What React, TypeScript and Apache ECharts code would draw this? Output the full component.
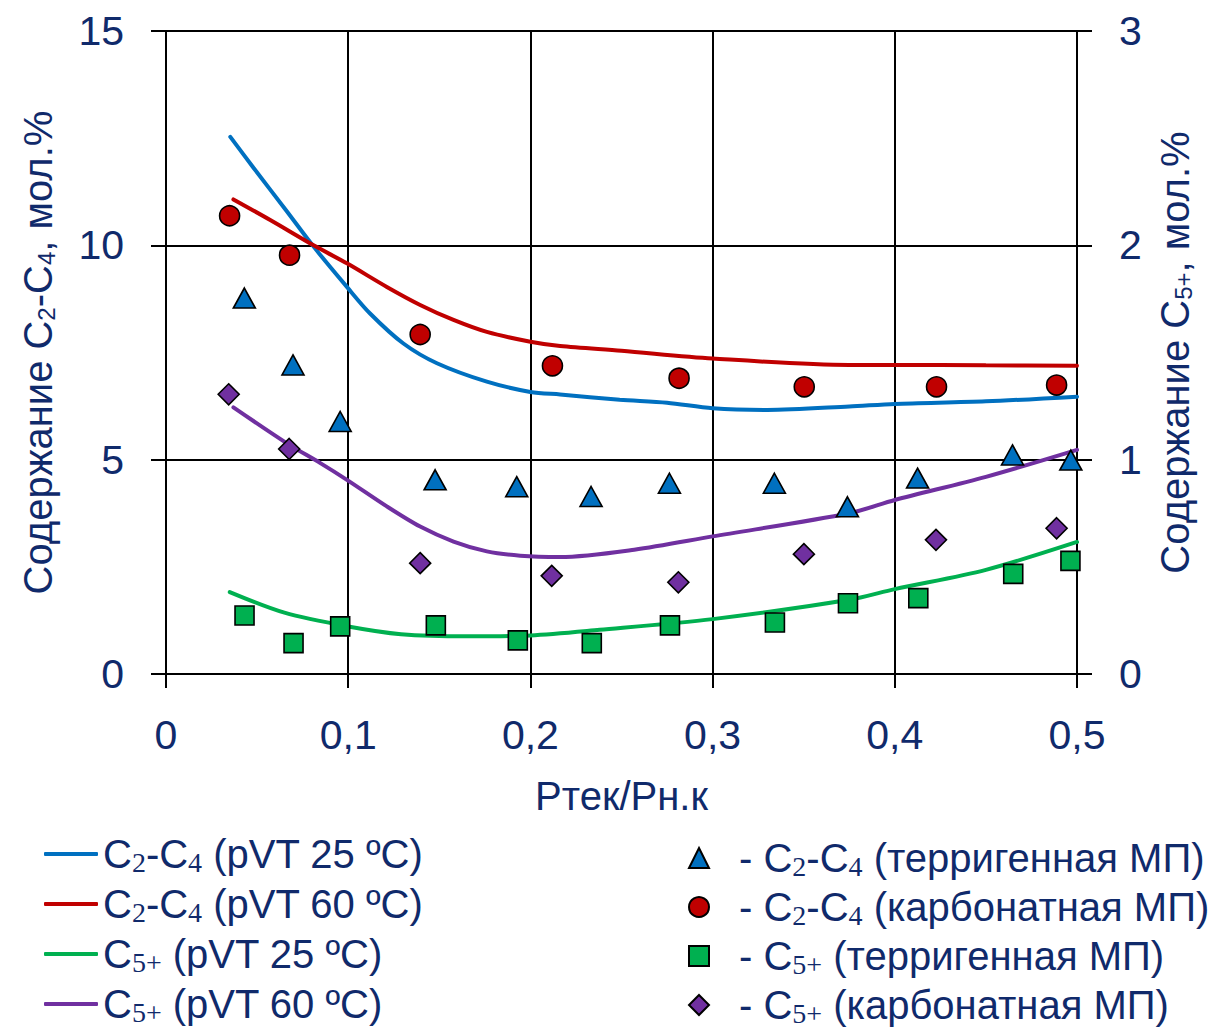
import React, { useEffect, useRef } from 'react';
import * as echarts from 'echarts';

const FONT = "'Liberation Sans', Arial, sans-serif";
const SUBFONT = "'Liberation Serif', 'DejaVu Serif', serif";
const TEXT = '#102A6B';
const FS = 41;

// Axis tick labels
const xTickLabels = ['0', '0,1', '0,2', '0,3', '0,4', '0,5'];
const yLeftTickLabels = ['0', '5', '10', '15'];
const yRightTickLabels = ['0', '1', '2', '3'];

// Model curves (pVT) — C2-C4 on left axis, C5+ on right axis
const c24t25X = [0.0353, 0.048, 0.0664, 0.081, 0.0993, 0.112, 0.1303, 0.1487, 0.1761, 0.2, 0.2163, 0.249, 0.275, 0.3, 0.33, 0.375, 0.4, 0.45, 0.5];
const c24t25Y = [12.53, 11.81, 10.79, 9.97, 9.03, 8.41, 7.71, 7.25, 6.82, 6.58, 6.52, 6.4, 6.33, 6.2, 6.16, 6.24, 6.3, 6.36, 6.47];

const c24t60X = [0.037, 0.0572, 0.081, 0.0993, 0.1212, 0.1395, 0.1578, 0.1761, 0.2, 0.2163, 0.25, 0.3, 0.375, 0.4, 0.45, 0.5];
const c24t60Y = [11.07, 10.59, 10.0, 9.58, 9.03, 8.61, 8.26, 7.98, 7.75, 7.65, 7.54, 7.36, 7.21, 7.21, 7.2, 7.19];

const c5t25X = [0.035, 0.065, 0.1, 0.129, 0.165, 0.2, 0.238, 0.3, 0.375, 0.4, 0.45, 0.5];
const c5t25Y = [0.382, 0.286, 0.222, 0.186, 0.176, 0.18, 0.206, 0.256, 0.346, 0.396, 0.486, 0.616];

const c5t60X = [0.037, 0.0664, 0.0847, 0.0993, 0.1212, 0.1395, 0.1578, 0.1761, 0.1944, 0.2163, 0.257, 0.3, 0.375, 0.4, 0.45, 0.5];
const c5t60Y = [1.244, 1.076, 0.984, 0.906, 0.782, 0.688, 0.618, 0.572, 0.552, 0.546, 0.58, 0.642, 0.75, 0.812, 0.92, 1.046];

// Measured points
const triX = [0.043, 0.0697, 0.0956, 0.1477, 0.1925, 0.2333, 0.2763, 0.3339, 0.374, 0.4125, 0.4646, 0.4966];
const triY = [8.77, 7.21, 5.89, 4.53, 4.37, 4.14, 4.45, 4.45, 3.9, 4.57, 5.11, 4.99];

const circX = [0.0349, 0.0678, 0.1395, 0.2121, 0.2816, 0.3503, 0.4229, 0.4888];
const circY = [10.69, 9.77, 7.92, 7.19, 6.9, 6.7, 6.7, 6.74];

const sqX = [0.0431, 0.07, 0.0956, 0.1481, 0.1931, 0.2337, 0.2766, 0.3342, 0.3743, 0.4129, 0.465, 0.4964];
const sqY = [0.273, 0.144, 0.222, 0.227, 0.157, 0.144, 0.227, 0.24, 0.33, 0.354, 0.467, 0.528];

const diaX = [0.0344, 0.0676, 0.1395, 0.2117, 0.2812, 0.3501, 0.4226, 0.4888];
const diaY = [1.305, 1.05, 0.517, 0.458, 0.428, 0.559, 0.626, 0.68];

const lineNames = ['C2-C4 (pVT 25 ºC)', 'C2-C4 (pVT 60 ºC)', 'C5+ (pVT 25 ºC)', 'C5+ (pVT 60 ºC)'];
const pointNames = ['- C2-C4 (терригенная МП)', '- C2-C4 (карбонатная МП)', '- C5+ (терригенная МП)', '- C5+ (карбонатная МП)'];

const legendRich: Record<string, string> = {
  'C2-C4 (pVT 25 ºC)': '{m|C}{s|2}{m|-C}{s|4}{m| (pVT 25 ºC)}',
  'C2-C4 (pVT 60 ºC)': '{m|C}{s|2}{m|-C}{s|4}{m| (pVT 60 ºC)}',
  'C5+ (pVT 25 ºC)': '{m|C}{s|5+}{m| (pVT 25 ºC)}',
  'C5+ (pVT 60 ºC)': '{m|C}{s|5+}{m| (pVT 60 ºC)}',
  '- C2-C4 (терригенная МП)': '{p|- C}{s|2}{m|-C}{s|4}{m| (терригенная МП)}',
  '- C2-C4 (карбонатная МП)': '{p|- C}{s|2}{m|-C}{s|4}{m| (карбонатная МП)}',
  '- C5+ (терригенная МП)': '{p|- C}{s|5+}{m| (терригенная МП)}',
  '- C5+ (карбонатная МП)': '{p|- C}{s|5+}{m| (карбонатная МП)}',
};

const zip = (xs: number[], ys: number[]) => xs.map((x, i) => [x, ys[i]]);

const legendRichStyles = {
  m: { fontFamily: FONT, fontSize: 40, color: TEXT, lineHeight: 44 },
  p: { fontFamily: FONT, fontSize: 40, color: TEXT, lineHeight: 44, padding: [0, 0, 0, 25] },
  s: { fontFamily: SUBFONT, fontSize: 28, color: TEXT, lineHeight: 22, verticalAlign: 'bottom' },
};

const axisRich = {
  m: { fontFamily: FONT, fontSize: 40, color: TEXT, lineHeight: 40 },
  s: { fontFamily: FONT, fontSize: 24, color: TEXT, lineHeight: 26, verticalAlign: 'bottom' },
};

const black = { color: '#000', width: 2 };

function buildOption() {
  const lineSeries = (name: string, xs: number[], ys: number[], color: string, yAxisIndex: number) => ({
    name,
    type: 'line',
    data: zip(xs, ys),
    yAxisIndex,
    smooth: 0.3,
    symbol: 'none',
    showSymbol: false,
    lineStyle: { color, width: 4, cap: 'round' },
    itemStyle: { color },
    z: 3,
  });
  const pointSeries = (name: string, xs: number[], ys: number[], color: string, symbol: string, size: any, yAxisIndex: number) => ({
    name,
    type: 'scatter',
    data: zip(xs, ys),
    yAxisIndex,
    symbol,
    symbolSize: size,
    itemStyle: { color, borderColor: '#000', borderWidth: 1.6, opacity: 1 },
    z: 5,
  });

  return {
    animation: false,
    backgroundColor: '#fff',
    grid: { left: 166, right: 144, top: 31, bottom: 357, containLabel: false },
    xAxis: {
      type: 'value',
      min: 0,
      max: 0.5,
      interval: 0.1,
      name: 'Ртек/Рн.к',
      nameLocation: 'middle',
      nameGap: 102,
      nameTextStyle: { fontFamily: FONT, fontSize: 40, color: TEXT },
      axisLine: { show: true, lineStyle: black },
      axisTick: { show: true, inside: false, length: 14, lineStyle: black },
      splitLine: { show: true, lineStyle: black },
      axisLabel: {
        margin: 40,
        fontFamily: FONT,
        fontSize: FS,
        color: TEXT,
        formatter: (v: number) => xTickLabels[Math.round(v * 10)] ?? '',
      },
    },
    yAxis: [
      {
        type: 'value',
        position: 'left',
        min: 0,
        max: 15,
        interval: 5,
        name: '{m|Содержание C}{s|2}{m|-C}{s|4}{m|, мол.%}',
        nameLocation: 'middle',
        nameRotate: 90,
        nameGap: 108,
        nameTextStyle: { fontFamily: FONT, fontSize: 40, color: TEXT, rich: axisRich },
        axisLine: { show: true, lineStyle: black },
        axisTick: { show: true, inside: false, length: 15, lineStyle: black },
        splitLine: { show: true, lineStyle: black },
        axisLabel: {
          margin: 42,
          fontFamily: FONT,
          fontSize: FS,
          color: TEXT,
          formatter: (v: number) => yLeftTickLabels[Math.round(v / 5)] ?? '',
        },
      },
      {
        type: 'value',
        position: 'right',
        min: 0,
        max: 3,
        interval: 1,
        name: '{m|Содержание C}{s|5+}{m|, мол.%}',
        nameLocation: 'middle',
        nameRotate: 90,
        nameGap: 78,
        nameTextStyle: { fontFamily: FONT, fontSize: 40, color: TEXT, rich: axisRich },
        axisLine: { show: true, lineStyle: black },
        axisTick: { show: true, inside: false, length: 15, lineStyle: black },
        splitLine: { show: false },
        axisLabel: {
          margin: 42,
          fontFamily: FONT,
          fontSize: FS,
          color: TEXT,
          formatter: (v: number) => yRightTickLabels[Math.round(v)] ?? '',
        },
      },
    ],
    legend: [
      {
        data: lineNames.map((n) => ({ name: n, icon: 'roundRect' })),
        orient: 'vertical',
        left: 44,
        top: 834,
        height: 260,
        padding: 0,
        itemGap: 8,
        itemWidth: 54,
        itemHeight: 4,
        selectedMode: false,
        formatter: (n: string) => legendRich[n],
        textStyle: { fontFamily: FONT, fontSize: 40, color: TEXT, rich: legendRichStyles },
      },
      {
        data: pointNames,
        orient: 'vertical',
        left: 688,
        top: 838,
        height: 260,
        padding: 0,
        itemGap: 7,
        itemWidth: 20,
        itemHeight: 20,
        selectedMode: false,
        formatter: (n: string) => legendRich[n],
        textStyle: { fontFamily: FONT, fontSize: 40, color: TEXT, rich: legendRichStyles },
      },
    ],
    series: [
      lineSeries(lineNames[0], c24t25X, c24t25Y, '#0070C0', 0),
      lineSeries(lineNames[1], c24t60X, c24t60Y, '#C00000', 0),
      lineSeries(lineNames[2], c5t25X, c5t25Y, '#00B050', 1),
      lineSeries(lineNames[3], c5t60X, c5t60Y, '#7030A0', 1),
      pointSeries(pointNames[0], triX, triY, '#0070C0', 'triangle', [22, 20], 0),
      pointSeries(pointNames[1], circX, circY, '#C00000', 'circle', 20, 0),
      pointSeries(pointNames[2], sqX, sqY, '#00B050', 'rect', 19, 1),
      pointSeries(pointNames[3], diaX, diaY, '#7030A0', 'diamond', 21, 1),
    ],
  };
}

export default function App() {
  const ref = useRef<HTMLDivElement>(null);
  useEffect(() => {
    document.body.style.margin = '0';
    const chart = echarts.init(ref.current as HTMLDivElement, null, { renderer: 'svg' });
    chart.setOption(buildOption() as any);
    return () => chart.dispose();
  }, []);
  return <div ref={ref} style={{ width: 1221, height: 1031 }} />;
}
